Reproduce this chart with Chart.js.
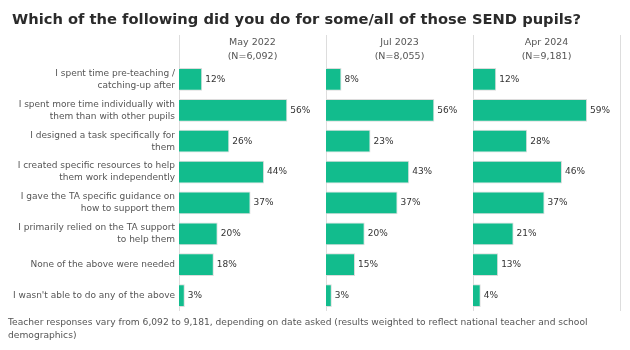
<!DOCTYPE html>
<html>
<head>
<meta charset="utf-8">
<script src="https://cdn.jsdelivr.net/npm/chart.js@4.4.1/dist/chart.umd.min.js"></script>
<style>
  body { margin: 0; background: #fff; }
  #wrap { position: relative; width: 630px; height: 350px; font-family: 'DejaVu Sans', sans-serif; }
  #title { position: absolute; left: 12px; top: 10px; font-size: 14.7px; font-weight: bold; color: #2b2b2b; white-space: nowrap; }
  #note { position: absolute; left: 8px; top: 316px; width: 610px; font-size: 9.15px; line-height: 13px; color: #555; }
  canvas { position: absolute; left: 0; top: 0; }
</style>
</head>
<body>
<div id="wrap">
  <canvas id="chart" width="630" height="350"></canvas>
  <div id="title">Which of the following did you do for some/all of those SEND pupils?</div>
  <div id="note">Teacher responses vary from 6,092 to 9,181, depending on date asked (results weighted to reflect national teacher and school demographics)</div>
</div>
<script>
  // answer options (y axis)
  const categories = [
    ['I spent time pre-teaching /', 'catching-up after'],
    ['I spent more time individually with', 'them than with other pupils'],
    ['I designed a task specifically for', 'them'],
    ['I created specific resources to help', 'them work independently'],
    ['I gave the TA specific guidance on', 'how to support them'],
    ['I primarily relied on the TA support', 'to help them'],
    'None of the above were needed',
    "I wasn't able to do any of the above"
  ];

  // survey waves
  const waves = ['May 2022', 'Jul 2023', 'Apr 2024'];
  const sampleSizes = ['(N=6,092)', '(N=8,055)', '(N=9,181)'];

  // % of teachers
  const may2022 = [12, 56, 26, 44, 37, 20, 18, 3];
  const jul2023 = [8, 56, 23, 43, 37, 20, 15, 3];
  const apr2024 = [12, 59, 28, 46, 37, 21, 13, 4];

  const seriesValues = [may2022, jul2023, apr2024];
  const barColor = '#12bc8d';
  const fontFamily = "'DejaVu Sans', sans-serif";

  // value labels at the end of each bar
  const barLabels = {
    id: 'barLabels',
    afterDatasetsDraw(chart) {
      const ctx = chart.ctx;
      ctx.save();
      ctx.font = '9px ' + fontFamily;
      ctx.fillStyle = '#333';
      ctx.textAlign = 'left';
      ctx.textBaseline = 'middle';
      chart.data.datasets.forEach((ds, i) => {
        chart.getDatasetMeta(i).data.forEach((bar, j) => {
          ctx.fillText(ds.data[j] + '%', bar.x + 3, bar.y);
        });
      });
      ctx.restore();
    }
  };

  // thin separators between the panels
  const panelLines = {
    id: 'panelLines',
    beforeDatasetsDraw(chart) {
      const ctx = chart.ctx;
      const bottom = chart.chartArea.bottom;
      ctx.save();
      ctx.strokeStyle = '#dddddd';
      ctx.lineWidth = 1;
      const xs = [];
      waves.forEach((w, i) => {
        const s = chart.scales['x' + i];
        xs.push([s.left, 35]);
        xs.push([s.right, 35]);
      });
      xs.forEach(([x, top]) => {
        const px = Math.round(x) + 0.5;
        ctx.beginPath();
        ctx.moveTo(px, top);
        ctx.lineTo(px, bottom);
        ctx.stroke();
      });
      ctx.restore();
    }
  };

  const scales = {
    y: {
      type: 'category',
      grid: { display: false, drawTicks: false },
      border: { display: false },
      ticks: {
        color: '#555',
        padding: 4,
        font: { family: fontFamily, size: 9, lineHeight: '12px' }
      },
      afterFit(scale) { scale.width = 179; }
    }
  };
  // top boxes in a stack are laid out in reverse, so add the last panel first
  for (let i = waves.length - 1; i >= 0; i--) {
    scales['x' + i] = {
      type: 'linear',
      position: 'top',
      stack: 'panels',
      min: 0,
      max: 76,
      grid: { display: false, drawTicks: false },
      border: { display: false },
      ticks: { display: false },
      title: {
        display: true,
        text: [waves[i], sampleSizes[i]],
        color: '#555',
        padding: { top: 2, bottom: 0 },
        font: { family: fontFamily, size: 9.5, lineHeight: '14px' }
      }
    };
  }

  new Chart(document.getElementById('chart'), {
    type: 'bar',
    data: {
      labels: categories,
      datasets: seriesValues.map((vals, i) => ({
        label: waves[i],
        data: vals,
        xAxisID: 'x' + i,
        backgroundColor: barColor,
        borderColor: '#dcdcdc',
        borderWidth: 1,
        grouped: false,
        barPercentage: 0.74,
        categoryPercentage: 1
      }))
    },
    options: {
      indexAxis: 'y',
      responsive: false,
      animation: false,
      layout: { padding: { top: 34, bottom: 39, left: 0, right: 10 } },
      plugins: {
        legend: { display: false },
        tooltip: { enabled: false }
      },
      scales: scales
    },
    plugins: [panelLines, barLabels]
  });
</script>
</body>
</html>
